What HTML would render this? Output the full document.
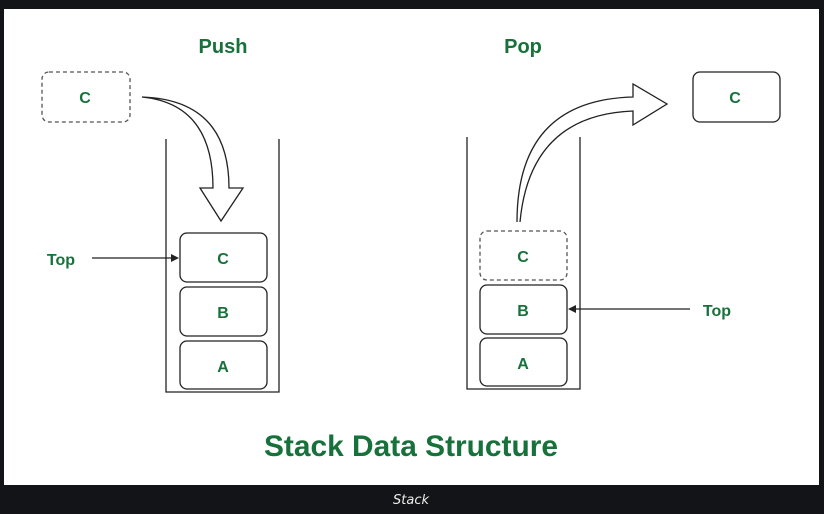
<!DOCTYPE html>
<html><head><meta charset="utf-8"><style>
html,body{margin:0;padding:0;background:#131417;width:824px;height:514px;overflow:hidden}
</style></head><body>
<svg width="824" height="514" viewBox="0 0 824 514" xmlns="http://www.w3.org/2000/svg" font-family="Liberation Sans, sans-serif">
<rect x="0" y="0" width="824" height="514" fill="#131417"/>
<rect x="4" y="9" width="815" height="476" fill="#fff"/>
<g fill="#17713b" font-weight="bold" text-anchor="middle">
<text x="223" y="53" font-size="20">Push</text>
<text x="523" y="53" font-size="20">Pop</text>
<text x="411" y="456" font-size="30" textLength="294" lengthAdjust="spacingAndGlyphs">Stack Data Structure</text>
</g>
<g fill="none" stroke="#222" stroke-width="1.3">
<path d="M166,139 V392 H279 V139"/>
<path d="M467,137 V389 H580 V137"/>
<rect x="180" y="233" width="87" height="49" rx="7"/>
<rect x="180" y="287" width="87" height="49" rx="7"/>
<rect x="180" y="341" width="87" height="48" rx="7"/>
<rect x="480" y="285" width="87" height="49" rx="7"/>
<rect x="480" y="338" width="87" height="48" rx="7"/>
<rect x="693" y="72" width="87" height="50" rx="7"/>
<rect x="42" y="72" width="88" height="50" rx="7" stroke="#555" stroke-dasharray="4 3"/>
<rect x="480" y="231" width="87" height="49" rx="7" stroke="#555" stroke-dasharray="4 3"/>
<path d="M142,97 Q229,100 229,188 H243 L221,221 L200,188 H213 Q213,104 142,97" fill="#fff"/>
<path d="M517,222 Q517,100 633,97 V84 L667,104 L633,125 V111 Q530,115 520,222" fill="#fff"/>
<path d="M92,258 H176"/>
<path d="M690,309 H572"/>
</g>
<path d="M179,258 L171,254 L171,262 Z" fill="#222"/>
<path d="M568,309 L576,305 L576,313 Z" fill="#222"/>
<g fill="#17713b" font-weight="bold" font-size="16" text-anchor="middle">
<text x="85" y="103">C</text>
<text x="735" y="103">C</text>
<text x="223" y="264">C</text>
<text x="223" y="318">B</text>
<text x="223" y="372">A</text>
<text x="523" y="262">C</text>
<text x="523" y="316">B</text>
<text x="523" y="369">A</text>
<text x="61" y="265">Top</text>
<text x="717" y="316">Top</text>
</g>
<text x="411" y="504" fill="#eee" font-size="13" font-style="italic" text-anchor="middle" font-family="DejaVu Sans, sans-serif">Stack</text>
</svg>
</body></html>
